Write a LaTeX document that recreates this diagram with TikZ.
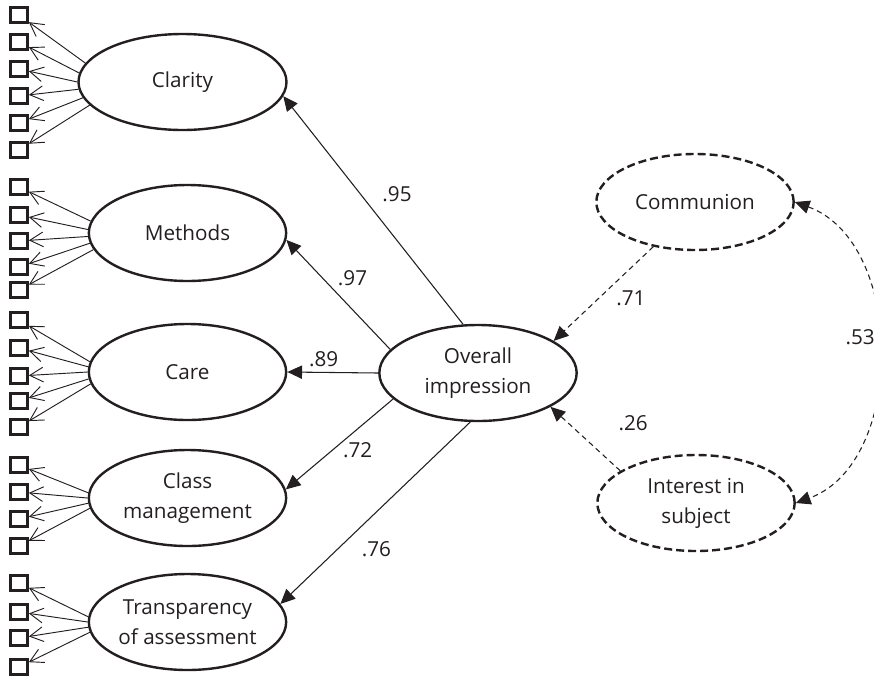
\documentclass[tikz,border=0pt]{standalone}
\usepackage{fontspec}
\setmainfont{Open Sans}
\usepackage{xcolor}
\usetikzlibrary{arrows.meta, positioning, shapes.geometric}
\definecolor{inkcolor}{RGB}{35,31,32}

\begin{document}
\begin{tikzpicture}[
  x=0.75pt, y=0.75pt,
  >={Triangle[length=11pt,width=10pt]},
  every node/.style={font=\fontsize{15.5}{22.5}\selectfont, text=inkcolor},
  latent/.style={draw=inkcolor, ellipse, line width=1.8pt, minimum width=148pt,
                 minimum height=72pt, align=center, inner sep=0pt},
  extra/.style={latent, dash pattern=on 6pt off 3pt},
  ind/.style={draw=inkcolor, rectangle, line width=1.8pt, minimum width=13pt,
              minimum height=11pt, inner sep=0pt},
  load/.style={-{Straight Barb[length=10pt,width=11pt]}, line width=0.7pt, color=inkcolor},
  reg/.style={->, line width=0.8pt, color=inkcolor},
  dreg/.style={reg, dash pattern=on 4pt off 3pt},
  coef/.style={inner sep=2pt}
]
\useasboundingbox (0,0) rectangle (874,-682);
\clip (0,0) rectangle (874,-682);

% factors
\node[latent, minimum width=156pt] (clar) at (182.5,-82) {Clarity};
\node[latent] (meth) at (187.5,-233) {Methods};
\node[latent] (care) at (187.5,-372) {Care};
\node[latent] (mgmt) at (187.5,-498) {Class\\management};
\node[latent] (trans) at (187.5,-622) {Transparency\\of assessment};
\node[latent] (ovr) at (478,-373) {Overall\\impression};
\node[extra] (comm) at (695,-202) {Communion};
\node[extra] (intr) at (696,-503) {Interest in\\subject};

% items
\foreach \y/\a [count=\i] in {15/169,42/175,69/180,96/184,123/189,150/194}{
  \node[ind] (clar\i) at (19,-\y) {};
  \draw[load] (clar.\a) -- (clar\i);
}
\foreach \y/\a [count=\i] in {187/173,215/178,241/182,267/186,290/190}{
  \node[ind] (meth\i) at (19,-\y) {};
  \draw[load] (meth.\a) -- (meth\i);
}
\foreach \y/\a [count=\i] in {320/174,348/177,376/180,401/184,427/187}{
  \node[ind] (care\i) at (19,-\y) {};
  \draw[load] (care.\a) -- (care\i);
}
\foreach \y/\a [count=\i] in {465/177,492/180,519/183,546/186}{
  \node[ind] (mgmt\i) at (19,-\y) {};
  \draw[load] (mgmt.\a) -- (mgmt\i);
}
\foreach \y/\a [count=\i] in {583/177,612/180,638/183,667/186}{
  \node[ind] (trans\i) at (19,-\y) {};
  \draw[load] (trans.\a) -- (trans\i);
}

% second order
\draw[reg] (ovr.107) -- node[coef, pos=.57, right=14pt]{.95} (clar.352);
\draw[reg] (ovr.165) -- node[coef, pos=.65, right=9pt]{.97} (meth.356);
\draw[reg] (ovr.west) -- node[coef, pos=.6, above=2pt]{.89} (care.east);
\draw[reg] (ovr.197) -- node[coef, pos=.57, right=6pt]{.72} (mgmt.5);
\draw[reg] (ovr.261) -- node[coef, pos=.7, right=16pt]{.76} (trans.11);

% predictors
\draw[dreg] (comm.227) -- node[coef, pos=.55, right=11pt]{.71} (ovr.23);
\draw[dreg] (intr.157) -- node[coef, pos=.3, anchor=south west, xshift=12pt, yshift=13pt]{.26} (ovr.335);
\draw[dreg, <->] (comm.east) to[out=-20, in=20, looseness=1]
  node[coef, pos=.46, anchor=east]{.53} (intr.east);
\end{tikzpicture}
\end{document}
